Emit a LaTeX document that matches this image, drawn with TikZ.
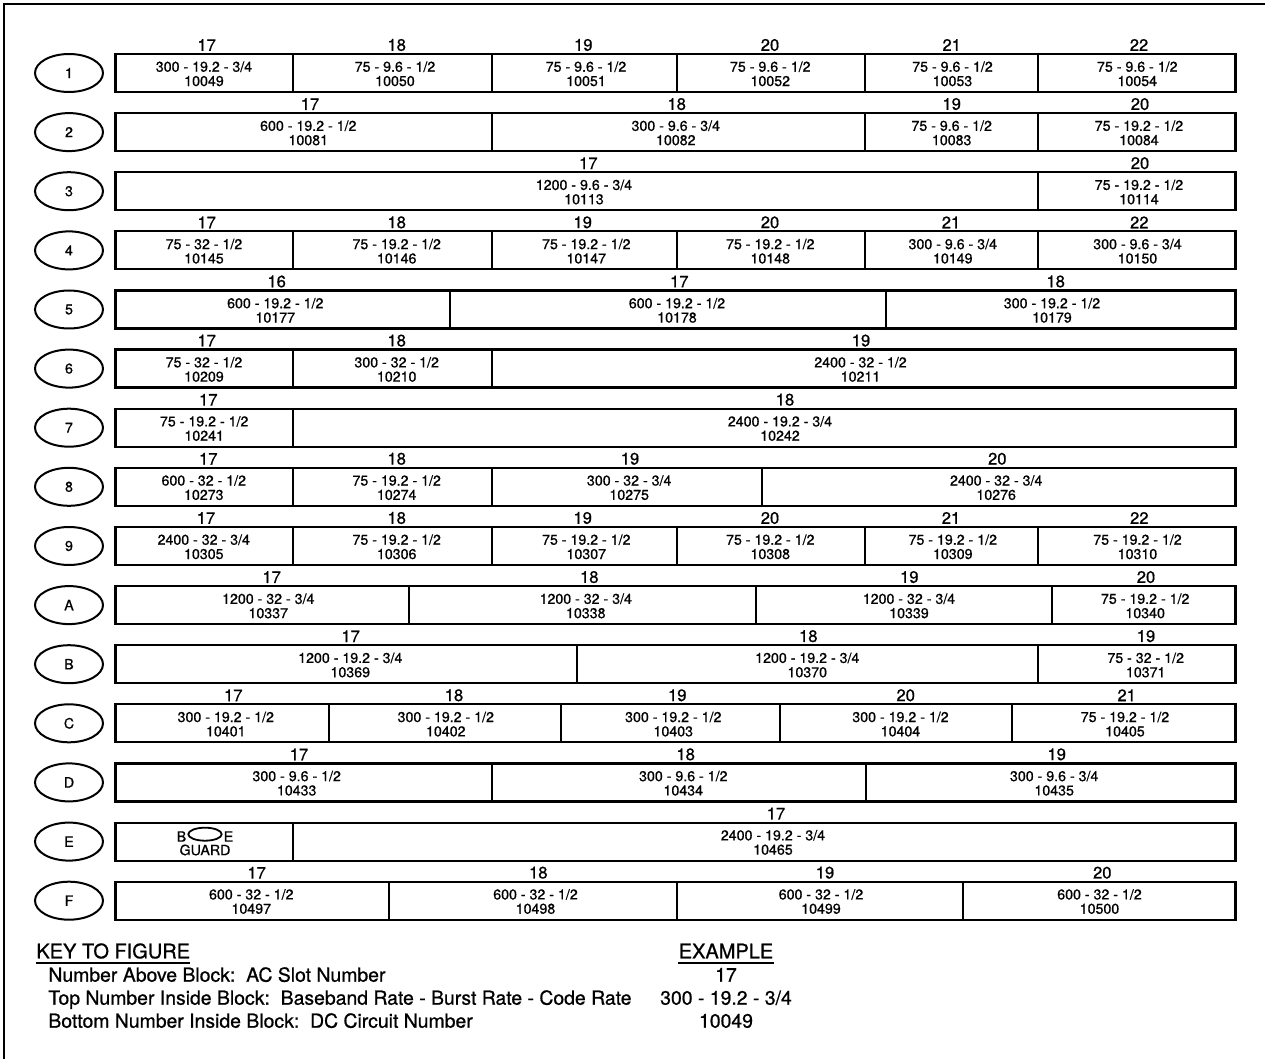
\documentclass[tikz,border=0pt]{standalone}
\usepackage{fontspec}
\setmainfont{TeX Gyre Heros}[FakeBold=0.8]
\usetikzlibrary{shapes.geometric}
\tikzset{
  blockbox/.style={draw, line width=1.1pt, minimum height=19pt, inner sep=0pt, outer sep=0pt, anchor=north west},
  slotnum/.style={inner sep=0pt, font=\fontsize{8.3}{9}\selectfont},
  blocktext/.style={inner sep=0pt, align=center, font=\fontsize{7.1}{7.15}\selectfont},
  rowoval/.style={draw, ellipse, line width=1pt, minimum width=34pt, minimum height=19pt, inner sep=0pt, font=\fontsize{7.1}{8}\selectfont},
  smalloval/.style={draw, ellipse, line width=0.9pt, minimum width=16.7pt, minimum height=6.5pt, inner sep=0pt},
  keyhead/.style={inner sep=0pt, anchor=base west, font=\fontsize{10}{12}\selectfont},
  keyline/.style={inner sep=0pt, anchor=base west, font=\fontsize{9.7}{11}\selectfont},
  keyex/.style={inner sep=0pt, anchor=base, font=\fontsize{9.7}{11}\selectfont},
  frameline/.style={line width=1.3pt},
  uline/.style={line width=1pt}
}
% #1 name, #2 x1, #3 x2, #4 top, #5 label x, #6 slot, #7 text x, #8 line1, #9 line2
\newcommand\slotblock[9]{%
  \node[blockbox, minimum width={(#3-#2)*0.5pt}] (#1) at (#2,#4) {};
  \node[slotnum] (#1s) at (#5,#4-9) {#6};
  \node[blocktext] (#1t) at (#7,#4+19.8) {#8\\#9};
}
\newcommand\rowoval[3]{\node[rowoval] (#1) at (69,#2+19) {#3};}
\begin{document}
\begin{tikzpicture}[x=0.5pt,y=-0.5pt]
\useasboundingbox (0,0) rectangle (1265,1059);
\draw[frameline] (4,1059) -- (4,4) -- (1265,4);

% Row 1
\rowoval{o1}{54.0}{1}
\slotblock{r1a}{115.5}{293.3}{54.0}{206.7}{17}{204}{300 - 19.2 - 3/4}{10049}
\slotblock{r1b}{293.3}{491.7}{54.0}{396.7}{18}{395}{75 - 9.6 - 1/2}{10050}
\slotblock{r1c}{491.7}{677.3}{54.0}{583.3}{19}{586}{75 - 9.6 - 1/2}{10051}
\slotblock{r1d}{677.3}{865.3}{54.0}{770}{20}{770.3}{75 - 9.6 - 1/2}{10052}
\slotblock{r1e}{865.3}{1037.7}{54.0}{951.7}{21}{952.5}{75 - 9.6 - 1/2}{10053}
\slotblock{r1f}{1037.7}{1235.5}{54.0}{1139}{22}{1137.3}{75 - 9.6 - 1/2}{10054}

% Row 2
\rowoval{o2}{113.1}{2}
\slotblock{r2a}{115.5}{491.7}{113.1}{310}{17}{308.3}{600 - 19.2 - 1/2}{10081}
\slotblock{r2b}{491.7}{865.3}{113.1}{676.7}{18}{675.8}{300 - 9.6 - 3/4}{10082}
\slotblock{r2c}{865.3}{1037.7}{113.1}{951.7}{19}{951.7}{75 - 9.6 - 1/2}{10083}
\slotblock{r2d}{1037.7}{1235.5}{113.1}{1140}{20}{1139}{75 - 19.2 - 1/2}{10084}

% Row 3
\rowoval{o3}{172.2}{3}
\slotblock{r3a}{115.5}{1037.7}{172.2}{588.3}{17}{584}{1200 - 9.6 - 3/4}{10113}
\slotblock{r3b}{1037.7}{1235.5}{172.2}{1140}{20}{1139}{75 - 19.2 - 1/2}{10114}

% Row 4
\rowoval{o4}{231.4}{4}
\slotblock{r4a}{115.5}{293.3}{231.4}{206.7}{17}{204}{75 - 32 - 1/2}{10145}
\slotblock{r4b}{293.3}{491.7}{231.4}{396.7}{18}{396.7}{75 - 19.2 - 1/2}{10146}
\slotblock{r4c}{491.7}{677.3}{231.4}{582.7}{19}{586.3}{75 - 19.2 - 1/2}{10147}
\slotblock{r4d}{677.3}{865.3}{231.4}{770}{20}{770.3}{75 - 19.2 - 1/2}{10148}
\slotblock{r4e}{865.3}{1037.7}{231.4}{951}{21}{952.8}{300 - 9.6 - 3/4}{10149}
\slotblock{r4f}{1037.7}{1235.5}{231.4}{1139.3}{22}{1137.5}{300 - 9.6 - 3/4}{10150}

% Row 5
\rowoval{o5}{290.5}{5}
\slotblock{r5a}{115.5}{450}{290.5}{276.7}{16}{275.3}{600 - 19.2 - 1/2}{10177}
\slotblock{r5b}{450}{886.3}{290.5}{679.3}{17}{677}{600 - 19.2 - 1/2}{10178}
\slotblock{r5c}{886.3}{1235.5}{290.5}{1055.7}{18}{1052}{300 - 19.2 - 1/2}{10179}

% Row 6
\rowoval{o6}{349.6}{6}
\slotblock{r6a}{115.5}{293.3}{349.6}{206.7}{17}{204}{75 - 32 - 1/2}{10209}
\slotblock{r6b}{293.3}{491.7}{349.6}{396.7}{18}{396.7}{300 - 32 - 1/2}{10210}
\slotblock{r6c}{491.7}{1235.5}{349.6}{861}{19}{860.5}{2400 - 32 - 1/2}{10211}

% Row 7
\rowoval{o7}{408.7}{7}
\slotblock{r7a}{115.5}{293.3}{408.7}{208.3}{17}{204.2}{75 - 19.2 - 1/2}{10241}
\slotblock{r7b}{293.3}{1235.5}{408.7}{785}{18}{780}{2400 - 19.2 - 3/4}{10242}

% Row 8
\rowoval{o8}{467.8}{8}
\slotblock{r8a}{115.5}{293.3}{467.8}{208.3}{17}{203.8}{600 - 32 - 1/2}{10273}
\slotblock{r8b}{293.3}{491.7}{467.8}{396.7}{18}{396.7}{75 - 19.2 - 1/2}{10274}
\slotblock{r8c}{491.7}{761.7}{467.8}{630}{19}{629.2}{300 - 32 - 3/4}{10275}
\slotblock{r8d}{761.7}{1235.5}{467.8}{997.3}{20}{996.2}{2400 - 32 - 3/4}{10276}

% Row 9
\rowoval{o9}{527.0}{9}
\slotblock{r9a}{115.5}{293.3}{527.0}{206}{17}{203.8}{2400 - 32 - 3/4}{10305}
\slotblock{r9b}{293.3}{491.7}{527.0}{396.7}{18}{396.7}{75 - 19.2 - 1/2}{10306}
\slotblock{r9c}{491.7}{677.3}{527.0}{582.7}{19}{586.3}{75 - 19.2 - 1/2}{10307}
\slotblock{r9d}{677.3}{865.3}{527.0}{770}{20}{770.3}{75 - 19.2 - 1/2}{10308}
\slotblock{r9e}{865.3}{1037.7}{527.0}{951}{21}{952.8}{75 - 19.2 - 1/2}{10309}
\slotblock{r9f}{1037.7}{1235.5}{527.0}{1139.3}{22}{1137.5}{75 - 19.2 - 1/2}{10310}

% Row A
\rowoval{oA}{586.1}{A}
\slotblock{rAa}{115.5}{409.3}{586.1}{271.7}{17}{268.3}{1200 - 32 - 3/4}{10337}
\slotblock{rAb}{409.3}{756}{586.1}{589.3}{18}{585.8}{1200 - 32 - 3/4}{10338}
\slotblock{rAc}{756}{1052.3}{586.1}{909.3}{19}{909}{1200 - 32 - 3/4}{10339}
\slotblock{rAd}{1052.3}{1235.5}{586.1}{1146}{20}{1145.2}{75 - 19.2 - 1/2}{10340}

% Row B
\rowoval{oB}{645.2}{B}
\slotblock{rBa}{115.5}{577.3}{645.2}{350.7}{17}{350.3}{1200 - 19.2 - 3/4}{10369}
\slotblock{rBb}{577.3}{1037.7}{645.2}{808.3}{18}{807.3}{1200 - 19.2 - 3/4}{10370}
\slotblock{rBc}{1037.7}{1235.5}{645.2}{1146}{19}{1145.7}{75 - 32 - 1/2}{10371}

% Row C
\rowoval{oC}{704.3}{C}
\slotblock{rCa}{115.5}{329.3}{704.3}{233.3}{17}{225.8}{300 - 19.2 - 1/2}{10401}
\slotblock{rCb}{329.3}{561}{704.3}{454}{18}{445.8}{300 - 19.2 - 1/2}{10402}
\slotblock{rCc}{561}{780}{704.3}{677.3}{19}{673.3}{300 - 19.2 - 1/2}{10403}
\slotblock{rCd}{780}{1012.3}{704.3}{905.7}{20}{900.5}{300 - 19.2 - 1/2}{10404}
\slotblock{rCe}{1012.3}{1235.5}{704.3}{1126.7}{21}{1125}{75 - 19.2 - 1/2}{10405}

% Row D
\rowoval{oD}{763.4}{D}
\slotblock{rDa}{115.5}{491.7}{763.4}{299}{17}{296.7}{300 - 9.6 - 1/2}{10433}
\slotblock{rDb}{491.7}{865.7}{763.4}{685.7}{18}{683.3}{300 - 9.6 - 1/2}{10434}
\slotblock{rDc}{865.7}{1235.5}{763.4}{1056.7}{19}{1054.2}{300 - 9.6 - 3/4}{10435}

% Row E
\rowoval{oE}{822.6}{E}
\node[blockbox, minimum width={(293.3-115.5)*0.5pt}] (rEa) at (115.5,822.6) {};
\node[blocktext] (rEaB) at (181.5,836.5) {B};
\node[smalloval] (rEaO) at (205,834.2) {};
\node[blocktext] (rEaE) at (228.5,836.5) {E};
\node[blocktext] (rEaG) at (205,850) {GUARD};
\slotblock{rEb}{293.3}{1235.5}{822.6}{776}{17}{773}{2400 - 19.2 - 3/4}{10465}

% Row F
\rowoval{oF}{881.7}{F}
\slotblock{rFa}{115.5}{388.7}{881.7}{256.7}{17}{251.3}{600 - 32 - 1/2}{10497}
\slotblock{rFb}{388.7}{676.7}{881.7}{538.3}{18}{535.5}{600 - 32 - 1/2}{10498}
\slotblock{rFc}{676.7}{963}{881.7}{825}{19}{821}{600 - 32 - 1/2}{10499}
\slotblock{rFd}{963}{1235.5}{881.7}{1102.3}{20}{1099.5}{600 - 32 - 1/2}{10500}

% Key
\node[keyhead] (keyh) at (36,958.3) {KEY TO FIGURE};
\draw[uline] ([yshift=-2.2pt]keyh.base west) -- ([yshift=-2.2pt]keyh.base east);
\node[keyline] (key1) at (48,981.7) {Number Above Block:\ \ AC Slot Number};
\node[keyline] (key2) at (48,1004.7) {Top Number Inside Block:\ \ Baseband Rate - Burst Rate - Code Rate};
\node[keyline] (key3) at (48,1027.7) {Bottom Number Inside Block:\ \ DC Circuit Number};

\node[keyhead, anchor=base] (exh) at (726,958.3) {EXAMPLE};
\draw[uline] ([yshift=-2.2pt]exh.base west) -- ([yshift=-2.2pt]exh.base east);
\node[keyex] (ex1) at (726,981.7) {17};
\node[keyex] (ex2) at (726,1004.7) {300 - 19.2 - 3/4};
\node[keyex] (ex3) at (726,1027.7) {10049};
\end{tikzpicture}
\end{document}
